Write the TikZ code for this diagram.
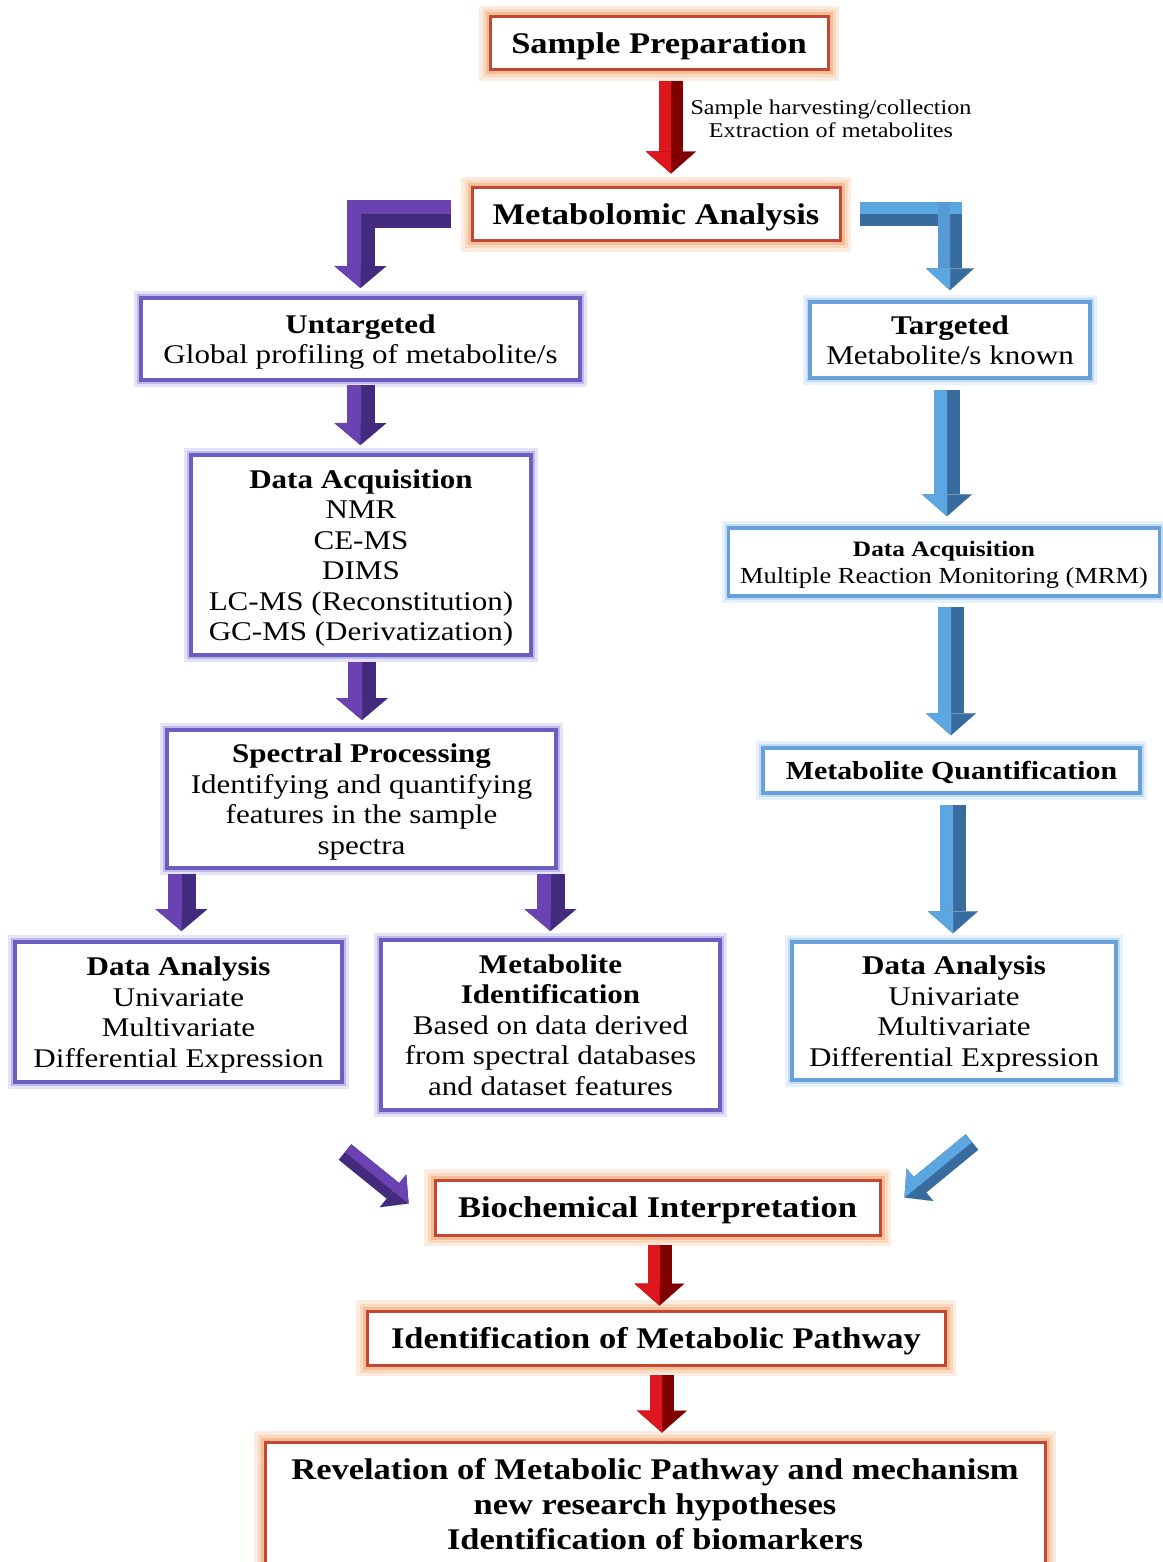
\documentclass[tikz,border=0pt]{standalone}
\usepackage{fontspec}
\setmainfont{Liberation Serif}[FakeStretch=1.15]
\usetikzlibrary{arrows.meta,calc}
\definecolor{rb}{RGB}{196,70,52}
\definecolor{rg}{RGB}{244,178,132}
\definecolor{pb}{RGB}{106,94,192}
\definecolor{pg}{RGB}{190,184,236}
\definecolor{bb}{RGB}{104,160,218}
\definecolor{bg}{RGB}{196,220,244}
\definecolor{pdark}{RGB}{66,42,124}
\definecolor{plight}{RGB}{106,66,178}
\definecolor{bdark}{RGB}{56,108,158}
\definecolor{blight}{RGB}{92,166,226}
\definecolor{rdark}{RGB}{128,0,0}
\definecolor{rlight}{RGB}{222,22,30}
\tikzset{
  base/.style={fill=white, align=center, inner sep=0pt, text=black, text depth=0pt},
  redbox/.style={base, draw=rb, line width=3pt,
    preaction={draw=rg!25, line width=22pt}, preaction={draw=rg!50, line width=15pt},
    preaction={draw=rg!85, line width=9pt}},
  purpbox/.style={base, draw=pb, line width=4pt,
    preaction={draw=pg!40, line width=14pt}, preaction={draw=pg, line width=8pt}},
  bluebox/.style={base, draw=bb, line width=3.5pt,
    preaction={draw=bg!40, line width=14pt}, preaction={draw=bg, line width=8pt}},
  bigtext/.style={font=\fontsize{30}{35}\selectfont\bfseries},
  bodytext/.style={font=\fontsize{27}{30.5}\selectfont},
  labeltext/.style={font=\fontsize{21}{23}\selectfont},
}
\newcommand{\blockarrow}[9]{%
  \draw[draw=#2, line width=#3, -{Triangle[width=#5, length=#6, line width=0.01pt]}] #9;
  \draw[draw=#1, line width=#4, shorten >=#6, transform canvas={#7}] #9;
  \draw[draw=#1, line width=0.01pt, -{Triangle[#8, width=#5, length=#6, line width=0.01pt]}] #9;
}
\begin{document}
\begin{tikzpicture}[x=1pt,y=-1pt]
\useasboundingbox (0,0) rectangle (1162,1562);
\fill[white] (0,0) rectangle (1162,1562);

% boxes
\node[redbox, bigtext, minimum width=338pt, minimum height=53pt] (SP) at (659,43.5) {Sample Preparation};
\node[redbox, bigtext, minimum width=368pt, minimum height=53pt] (MA) at (656,214.5) {Metabolomic Analysis};
\node[labeltext, align=center, text depth=0pt] (LAB) at (831,119) {Sample harvesting/collection\\Extraction of metabolites};
\node[purpbox, bodytext, minimum width=439pt, minimum height=82pt] (UT) at (360.5,339) {\textbf{Untargeted}\\Global profiling of metabolite/s};
\node[bluebox, bodytext, minimum width=280pt, minimum height=76pt] (TG) at (950,340) {\textbf{Targeted}\\Metabolite/s known};
\node[purpbox, bodytext, minimum width=340pt, minimum height=200pt] (DA1) at (361,555) {\textbf{Data Acquisition}\\NMR\\CE-MS\\DIMS\\LC-MS (Reconstitution)\\GC-MS (Derivatization)};
\node[bluebox, font=\fontsize{23}{27}\selectfont, minimum width=431pt, minimum height=68pt] (MRM) at (944,562) {{\fontsize{22}{27}\selectfont\bfseries Data Acquisition}\\Multiple Reaction Monitoring (MRM)};
\node[purpbox, bodytext, minimum width=389pt, minimum height=138pt] (SPP) at (361.5,799) {\textbf{Spectral Processing}\\Identifying and quantifying\\features in the sample\\spectra};
\node[bluebox, font=\fontsize{26}{30}\selectfont\bfseries, minimum width=377pt, minimum height=45pt] (MQ) at (951.5,770.5) {Metabolite Quantification};
\node[purpbox, bodytext, minimum width=327pt, minimum height=140pt] (DAL) at (178.5,1012) {\textbf{Data Analysis}\\Univariate\\Multivariate\\Differential Expression};
\node[purpbox, bodytext, minimum width=339pt, minimum height=170pt] (MI) at (550.5,1025) {\textbf{Metabolite}\\\textbf{Identification}\\Based on data derived\\from spectral databases\\and dataset features};
\node[bluebox, bodytext, minimum width=324pt, minimum height=138pt] (DAR) at (954,1011) {\textbf{Data Analysis}\\Univariate\\Multivariate\\Differential Expression};
\node[redbox, bigtext, minimum width=445pt, minimum height=55pt] (BI) at (657.5,1207.5) {Biochemical Interpretation};
\node[redbox, bigtext, minimum width=578pt, minimum height=54pt] (IMP) at (656,1338) {Identification of Metabolic Pathway};
\node[redbox, bigtext, minimum width=780pt, minimum height=124pt] (REV) at (655,1504) {Revelation of Metabolic Pathway and mechanism\\new research hypotheses\\Identification of biomarkers};

% red arrows
\coordinate (r1s) at ($(SP.south)+(12,10)$);
\coordinate (r1e) at ($(r1s |- MA.north)+(0,-13)$);
\blockarrow{rlight}{rdark}{24pt}{12pt}{50pt}{22pt}{xshift=-6pt}{harpoon,swap}{(r1s) -- (r1e)}
\coordinate (r2s) at ($(BI.south)+(2,8)$);
\coordinate (r2e) at ($(r2s |- IMP.north)+(0,-4)$);
\blockarrow{rlight}{rdark}{24pt}{12pt}{50pt}{22pt}{xshift=-6pt}{harpoon,swap}{(r2s) -- (r2e)}
\coordinate (r3s) at ($(IMP.south)+(6,8)$);
\coordinate (r3e) at ($(r3s |- REV.north)+(0,-8)$);
\blockarrow{rlight}{rdark}{24pt}{12pt}{50pt}{22pt}{xshift=-6pt}{harpoon,swap}{(r3s) -- (r3e)}

% purple vertical arrows
\coordinate (p1s) at ($(UT.south)+(0,3)$);
\coordinate (p1e) at ($(p1s |- DA1.north)+(0,-8)$);
\blockarrow{plight}{pdark}{28pt}{14pt}{52pt}{22pt}{xshift=-7pt}{harpoon,swap}{(p1s) -- (p1e)}
\coordinate (p2s) at ($(DA1.south)+(1,5)$);
\coordinate (p2e) at ($(p2s |- SPP.north)+(0,-8)$);
\blockarrow{plight}{pdark}{28pt}{14pt}{52pt}{22pt}{xshift=-7pt}{harpoon,swap}{(p2s) -- (p2e)}
\coordinate (p3s) at ($(SPP.south -| DAL.north)+(3,4)$);
\coordinate (p3e) at ($(p3s |- DAL.north)+(0,-9)$);
\blockarrow{plight}{pdark}{28pt}{14pt}{52pt}{22pt}{xshift=-7pt}{harpoon,swap}{(p3s) -- (p3e)}
\coordinate (p4s) at ($(SPP.south -| MI.north)+(0,4)$);
\coordinate (p4e) at ($(p4s |- MI.north)+(0,-7)$);
\blockarrow{plight}{pdark}{28pt}{14pt}{52pt}{22pt}{xshift=-7pt}{harpoon,swap}{(p4s) -- (p4e)}

% blue vertical arrows
\coordinate (b1s) at ($(TG.south)+(-3,10)$);
\coordinate (b1e) at ($(b1s |- MRM.north)+(0,-10)$);
\blockarrow{blight}{bdark}{26pt}{13pt}{50pt}{22pt}{xshift=-6.5pt}{harpoon,swap}{(b1s) -- (b1e)}
\coordinate (b2s) at ($(MRM.south)+(7,9)$);
\coordinate (b2e) at ($(b2s |- MQ.north)+(0,-11)$);
\blockarrow{blight}{bdark}{26pt}{13pt}{50pt}{22pt}{xshift=-6.5pt}{harpoon,swap}{(b2s) -- (b2e)}
\coordinate (b3s) at ($(MQ.south)+(1.5,10)$);
\coordinate (b3e) at ($(b3s |- DAR.north)+(0,-7)$);
\blockarrow{blight}{bdark}{26pt}{13pt}{50pt}{22pt}{xshift=-6.5pt}{harpoon,swap}{(b3s) -- (b3e)}

% left elbow arrow (purple)
\coordinate (le1) at ($(MA.west)+(-20,0)$);
\coordinate (le2) at ($(UT.north)+(0,-8)$);
\draw[draw=pdark, line width=28pt, line join=miter, -{Triangle[width=52pt,length=22pt,line width=0.01pt]}] (le1) -| (le2);
\draw[draw=plight, line width=14pt] ($(le1)+(0,-7)$) -- ($(le1 -| le2)+(0,-7)$);
\draw[draw=plight, line width=14pt, shorten >=22pt] ($(le1 -| le2)+(-7,-14)$) -- ($(le2)+(-7,0)$);
\draw[draw=plight, line width=0.01pt, -{Triangle[harpoon,swap,width=52pt,length=22pt,line width=0.01pt]}] ($(le1 -| le2)+(0,-14)$) -- (le2);

% right elbow arrow (blue)
\coordinate (re1) at ($(MA.east)+(18,0)$);
\coordinate (re2) at ($(TG.north)+(0,-10)$);
\draw[draw=bdark, line width=24pt, line join=miter, -{Triangle[width=48pt,length=22pt,line width=0.01pt]}] (re1) -| (re2);
\draw[draw=blight, line width=12pt] ($(re1)+(0,-6)$) -- ($(re1 -| re2)+(12,-6)$);
\draw[draw=blight!80!bdark, line width=12pt, shorten >=22pt] ($(re1 -| re2)+(-6,-12)$) -- ($(re2)+(-6,0)$);
\draw[draw=blight, line width=0.01pt, -{Triangle[harpoon,swap,width=48pt,length=22pt,line width=0.01pt]}] ($(re1 -| re2)+(0,-12)$) -- (re2);

% diagonal arrows
\coordinate (pd) at (345,1152);
\coordinate (pde) at ($(BI.west)+(-25,-4)$);
\blockarrow{plight}{pdark}{20pt}{10pt}{42pt}{20pt}{xshift=3.5pt,yshift=3.5pt}{harpoon}{(pd) -- (pde)}
\coordinate (bd) at (972,1142);
\coordinate (bde) at ($(BI.east)+(23,-10)$);
\blockarrow{blight}{bdark}{20pt}{10pt}{42pt}{20pt}{xshift=-3.5pt,yshift=3.5pt}{harpoon,swap}{(bd) -- (bde)}
\end{tikzpicture}
\end{document}
